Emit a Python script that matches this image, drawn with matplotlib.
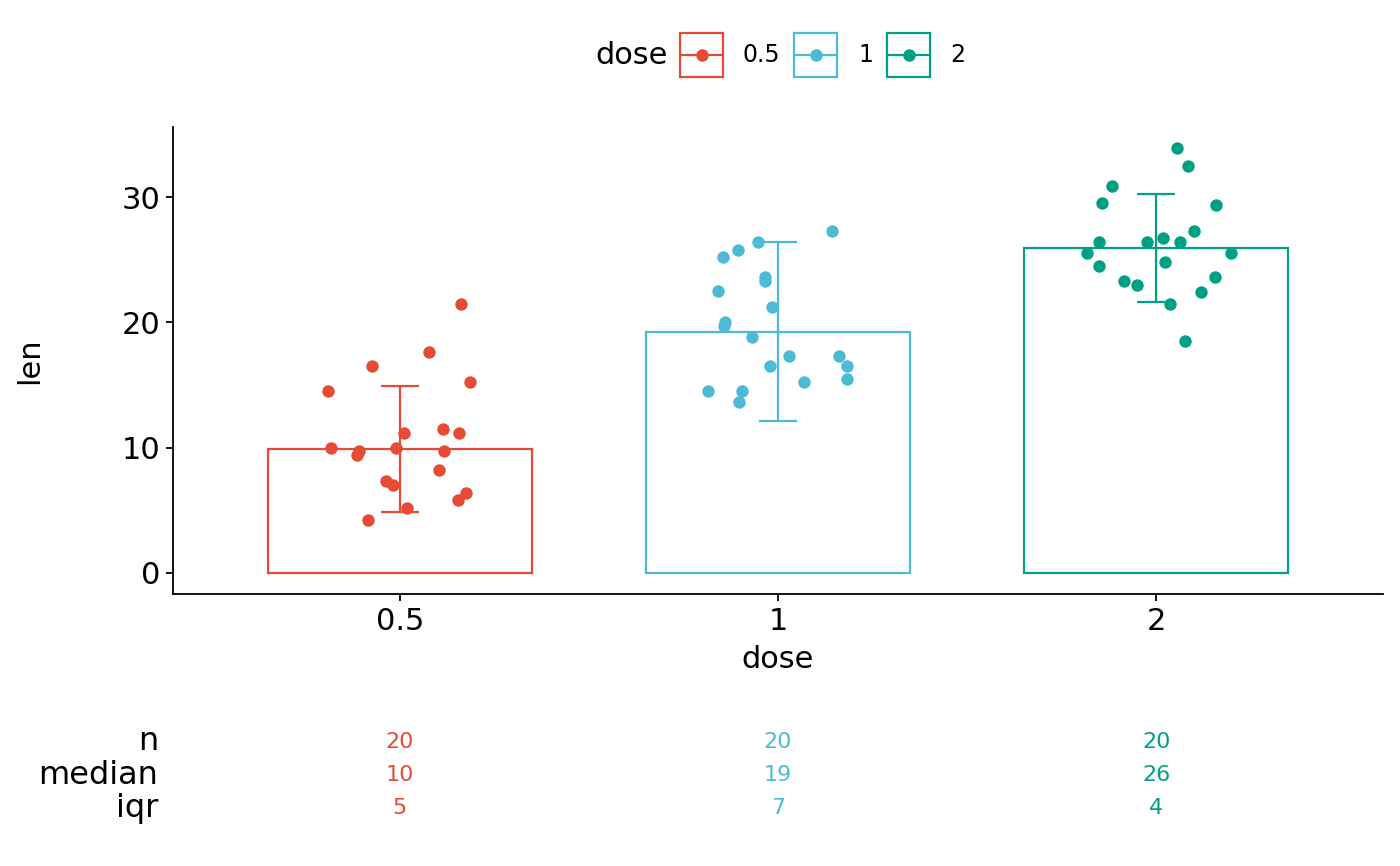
import numpy as np
import matplotlib
matplotlib.use("Agg")
import matplotlib.pyplot as plt
from matplotlib.patches import Rectangle
from matplotlib.transforms import blended_transform_factory

# ToothGrowth len values by dose, with the x jitter
doses = ["0.5", "1", "2"]
colors = ["#E64B35", "#4DBBD5", "#00A087"]

len_05 = [21.5, 17.6, 16.5, 15.2, 14.5, 11.2, 11.5, 11.2, 10.0, 10.0,
          9.7, 9.4, 9.7, 8.2, 7.3, 7.0, 6.4, 5.8, 5.2, 4.2]
jit_05 = [0.161, 0.076, -0.073, 0.185, -0.190, 0.011, 0.115, 0.157, -0.181, -0.009,
          -0.107, -0.113, 0.117, 0.104, -0.037, -0.017, 0.176, 0.153, 0.020, -0.084]

len_1 = [27.3, 26.4, 25.8, 25.2, 23.6, 23.3, 22.5, 21.2, 20.0, 19.7,
         18.8, 17.3, 17.3, 16.5, 16.5, 15.5, 15.2, 14.5, 14.5, 13.6]
jit_1 = [0.142, -0.053, -0.107, -0.145, -0.035, -0.035, -0.158, -0.015, -0.139, -0.143,
         -0.069, 0.029, 0.160, 0.182, -0.020, 0.182, 0.070, -0.184, -0.094, -0.103]

len_2 = [33.9, 32.5, 30.9, 29.5, 29.4, 27.3, 26.7, 26.4, 26.4, 26.4,
         25.5, 25.5, 24.8, 24.5, 23.6, 23.3, 23.0, 22.4, 21.5, 18.5]
jit_2 = [0.055, 0.083, -0.118, -0.142, 0.158, 0.100, 0.017, -0.150, -0.024, 0.062,
         -0.182, 0.197, 0.024, -0.151, 0.155, -0.085, -0.050, 0.119, 0.036, 0.077]

groups = [len_05, len_1, len_2]
jitters = [jit_05, jit_1, jit_2]

W, H = 1400, 866
fig = plt.figure(figsize=(W / 100, H / 100), dpi=100)
plt.rcParams['font.family'] = ['DejaVu Sans']

ax = fig.add_axes([173 / W, 1 - 594 / H, (1383 - 173) / W, (594 - 127) / H])

medians = []
iqrs = []
for i, vals in enumerate(groups):
    v = np.array(vals)
    med = np.median(v)
    q1, q3 = np.percentile(v, [25, 75])
    iqr = q3 - q1
    medians.append(med)
    iqrs.append(iqr)
    # bar = median
    ax.bar(i, med, width=0.7, facecolor="white", edgecolor=colors[i], linewidth=1.6, zorder=1)
    # error bar = median +/- iqr
    ax.vlines(i, med - iqr, med + iqr, color=colors[i], linewidth=1.6, zorder=2)
    ax.hlines([med - iqr, med + iqr], i - 0.05, i + 0.05, color=colors[i], linewidth=1.6, zorder=2)
    # jittered points
    ax.scatter(i + np.array(jitters[i]), v, s=80, color=colors[i], linewidths=0, zorder=3)

ax.set_xlim(-0.6, 2.6)
ax.set_ylim(-1.695, 35.595)
ax.set_xticks(range(3))
ax.set_xticklabels(doses)
ax.set_yticks([0, 10, 20, 30])
ax.tick_params(axis="both", labelsize=22, length=5, width=1.3, pad=4, colors="black")
for s in ["top", "right"]:
    ax.spines[s].set_visible(False)
for s in ["left", "bottom"]:
    ax.spines[s].set_linewidth(1.3)
ax.set_xlabel("dose", fontsize=22, labelpad=7)
ax.set_ylabel("len", fontsize=22, labelpad=56)

# overlay in pixel coords for legend and table labels
lax = fig.add_axes([0, 0, 1, 1], zorder=5)
lax.set_xlim(0, W)
lax.set_ylim(H, 0)
lax.axis("off")
lax.patch.set_visible(False)

lax.text(668, 55, "dose", fontsize=22, ha="right", va="center")
box_x = [680, 794, 887]
lab_x = [742, 858, 950]
for i in range(3):
    lax.add_patch(Rectangle((box_x[i], 33), 43, 44, fill=False, edgecolor=colors[i], linewidth=1.6))
    lax.plot([box_x[i] + 2, box_x[i] + 41], [55, 55], color=colors[i], linewidth=1.6)
    lax.plot([box_x[i] + 21.5], [55], "o", color=colors[i], markersize=9, markeredgewidth=0)
    lax.text(lab_x[i], 55, doses[i], fontsize=17, ha="left", va="center")

# summary table
row_y = [742, 775, 808]
row_names = ["n", "median", "iqr"]
for name, y in zip(row_names, row_y):
    lax.text(158, y, name, fontsize=23, ha="right", va="center")

trans = blended_transform_factory(ax.transData, lax.transData)
for i in range(3):
    vals_txt = [str(len(groups[i])), str(int(round(medians[i]))), str(int(round(iqrs[i])))]
    for t, y in zip(vals_txt, row_y):
        lax.text(i, y, t, transform=trans, fontsize=16, color=colors[i], ha="center", va="center")

fig.savefig("out.png", dpi=100)
